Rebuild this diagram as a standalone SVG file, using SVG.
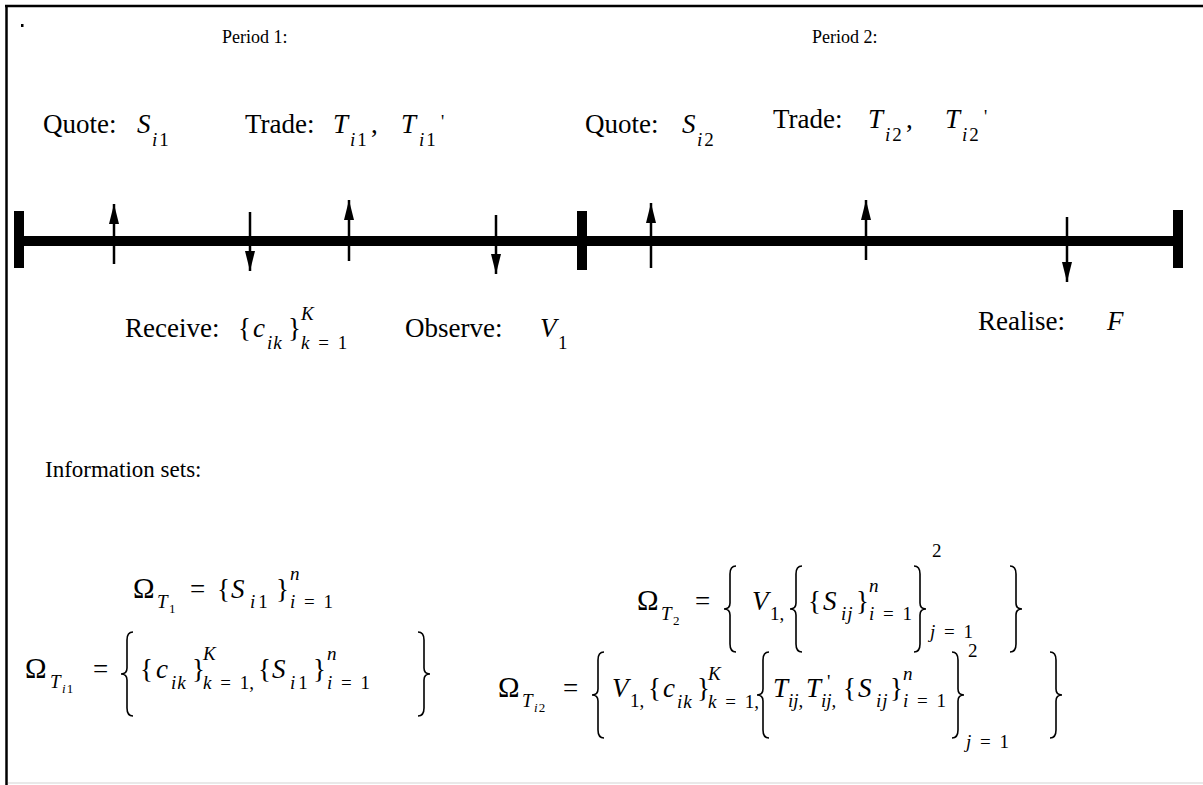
<svg xmlns="http://www.w3.org/2000/svg" width="1203" height="785" viewBox="0 0 1203 785">
<style>
.m{font-family:"Liberation Serif","Times New Roman",serif;fill:#000}
.L{font-size:27px}
.O{font-size:29px}
.s{font-size:19px;word-spacing:4px}
.ss{font-size:13px;letter-spacing:1px}
.p{font-size:18px}
.q{font-size:23px}
.i{font-style:italic}
.n{font-style:normal}
.br{fill:none;stroke:#000;stroke-width:1.6}
.arr{stroke:#000;stroke-width:2.5;marker-end:url(#ah)}
</style>
<defs>
<marker id="ah" markerUnits="userSpaceOnUse" viewBox="0 0 20 10" markerWidth="20" markerHeight="10" refX="20" refY="5" orient="auto">
<path d="M0,0 L20,5 L0,10 z" fill="#000"/>
</marker>
</defs>
<rect width="1203" height="785" fill="#fff"/>
<g id="frame">
<line x1="5" y1="6" x2="1203" y2="6" stroke="#000" stroke-width="2.5"/>
<line x1="6.5" y1="5" x2="6.5" y2="785" stroke="#000" stroke-width="2.5"/>
<line x1="8" y1="783" x2="1203" y2="783" stroke="#e2e2e2" stroke-width="1.5"/>
<rect x="21" y="24" width="2.5" height="3" fill="#000"/>
</g>
<g id="timeline">
<rect x="15" y="236" width="1167" height="10" fill="#000"/>
<rect x="14" y="211" width="10" height="57" fill="#000"/>
<rect x="577" y="211" width="10" height="59" fill="#000"/>
<rect x="1173" y="210" width="10" height="58" fill="#000"/>
</g>
<g id="connectors">
<line class="arr" x1="114" y1="264" x2="114" y2="204"/>
<line class="arr" x1="250" y1="212" x2="250" y2="271"/>
<line class="arr" x1="349" y1="261" x2="349" y2="200"/>
<line class="arr" x1="496" y1="215" x2="496" y2="274"/>
<line class="arr" x1="651" y1="268" x2="651" y2="203"/>
<line class="arr" x1="866" y1="260" x2="866" y2="200"/>
<line class="arr" x1="1067" y1="217" x2="1067" y2="282"/>
</g>
<g id="period1"><text class="m p" x="222" y="43">Period 1:</text></g>
<g id="period2"><text class="m p" x="812" y="43">Period 2:</text></g>
<g id="quote1">
<text class="m L" x="43" y="133">Quote:</text>
<text class="m L i" x="137" y="133">S</text>
<text class="m s" x="152" y="146"><tspan class="i">i</tspan><tspan dx="2">1</tspan></text>
</g>
<g id="trade1">
<text class="m L" x="245" y="133">Trade:</text>
<text class="m L i" x="333" y="133">T</text>
<text class="m s" x="350" y="146"><tspan class="i">i</tspan><tspan dx="2">1</tspan></text>
<text class="m L" x="371" y="133">,</text>
<text class="m L i" x="401" y="133">T</text>
<text class="m s" x="419" y="146"><tspan class="i">i</tspan><tspan dx="2">1</tspan></text>
<text class="m p" x="441" y="128">'</text>
</g>
<g id="quote2">
<text class="m L" x="585" y="133">Quote:</text>
<text class="m L i" x="682" y="133">S</text>
<text class="m s" x="697" y="146"><tspan class="i">i</tspan><tspan dx="2">2</tspan></text>
</g>
<g id="trade2">
<text class="m L" x="773" y="128">Trade:</text>
<text class="m L i" x="868" y="128">T</text>
<text class="m s" x="885" y="141"><tspan class="i">i</tspan><tspan dx="2">2</tspan></text>
<text class="m L" x="906" y="128">,</text>
<text class="m L i" x="945" y="128">T</text>
<text class="m s" x="962" y="141"><tspan class="i">i</tspan><tspan dx="2">2</tspan></text>
<text class="m p" x="984" y="123">'</text>
</g>
<g id="receive">
<text class="m L" x="125" y="337">Receive:</text>
<text class="m L" x="238" y="337">{</text>
<text class="m L i" x="253" y="337">c</text>
<text class="m s i" x="267" y="349" letter-spacing="1">ik</text>
<text class="m L" x="288" y="337">}</text>
<text class="m s i" x="301" y="320">K</text>
<text class="m s" x="301" y="349"><tspan class="i">k</tspan> = 1</text>
</g>
<g id="observe">
<text class="m L" x="405" y="337">Observe:</text>
<text class="m L i" x="540" y="337">V</text>
<text class="m s" x="558" y="349">1</text>
</g>
<g id="realise">
<text class="m L" x="978" y="330">Realise:</text>
<text class="m L i" x="1107" y="330">F</text>
</g>
<g id="infosets"><text class="m q" x="45" y="477">Information sets:</text></g>
<g id="omegaT1">
<text class="m O" x="133" y="598">Ω</text>
<text class="m s i" x="157" y="608">T</text>
<text class="m ss" x="169" y="613">1</text>
<text class="m L" x="190" y="598">=</text>
<text class="m L" x="217" y="598">{</text>
<text class="m L i" x="231" y="598">S</text>
<text class="m s" x="250" y="608"><tspan class="i">i</tspan><tspan dx="3">1</tspan></text>
<text class="m L" x="276" y="598">}</text>
<text class="m s i" x="290" y="580">n</text>
<text class="m s" x="290" y="608"><tspan class="i">i</tspan> = 1</text>
</g>
<g id="omegaTi1">
<text class="m O" x="25" y="678">Ω</text>
<text class="m s i" x="50" y="688">T</text>
<text class="m ss" x="62" y="693"><tspan class="i">i</tspan>1</text>
<text class="m L" x="93" y="678">=</text>
<path class="br" d="M133 632 Q127 632 127 640 L127 668 Q127 674 121 674 Q127 674 127 680 L127 708 Q127 716 133 716"/>
<text class="m L" x="140" y="678">{</text>
<text class="m L i" x="156" y="678">c</text>
<text class="m s i" x="171" y="689" letter-spacing="1">ik</text>
<text class="m L" x="192" y="678">}</text>
<text class="m s i" x="203" y="660">K</text>
<text class="m s" x="203" y="689"><tspan class="i">k</tspan> = 1,</text>
<text class="m L" x="258" y="678">{</text>
<text class="m L i" x="272" y="678">S</text>
<text class="m s" x="290" y="689"><tspan class="i">i</tspan><tspan dx="3">1</tspan></text>
<text class="m L" x="313" y="678">}</text>
<text class="m s i" x="327" y="660">n</text>
<text class="m s" x="327" y="689"><tspan class="i">i</tspan> = 1</text>
<path class="br" d="M418 632 Q424 632 424 640 L424 668 Q424 674 430 674 Q424 674 424 680 L424 708 Q424 716 418 716"/>
</g>
<g id="omegaT2">
<text class="m O" x="637" y="610">Ω</text>
<text class="m s i" x="661" y="620">T</text>
<text class="m ss" x="673" y="625">2</text>
<text class="m L" x="695" y="610">=</text>
<path class="br" d="M736 566 Q730 566 730 574 L730 603 Q730 609 724 609 Q730 609 730 615 L730 644 Q730 652 736 652"/>
<text class="m L i" x="752" y="610">V</text>
<text class="m s" x="770" y="620">1,</text>
<path class="br" d="M802 566 Q796 566 796 574 L796 603 Q796 609 790 609 Q796 609 796 615 L796 644 Q796 652 802 652"/>
<text class="m L" x="808" y="610">{</text>
<text class="m L i" x="823" y="610">S</text>
<text class="m s i" x="841" y="620" letter-spacing="1">ij</text>
<text class="m L" x="856" y="610">}</text>
<text class="m s i" x="869" y="592">n</text>
<text class="m s" x="869" y="620"><tspan class="i">i</tspan> = 1</text>
<path class="br" d="M914 566 Q920 566 920 574 L920 603 Q920 609 926 609 Q920 609 920 615 L920 644 Q920 652 914 652"/>
<text class="m s" x="932" y="557">2</text>
<text class="m s" x="930" y="638"><tspan class="i">j</tspan> = 1</text>
<path class="br" d="M1010 566 Q1016 566 1016 574 L1016 603 Q1016 609 1022 609 Q1016 609 1016 615 L1016 644 Q1016 652 1010 652"/>
</g>
<g id="omegaTi2">
<text class="m O" x="498" y="697">Ω</text>
<text class="m s i" x="522" y="707">T</text>
<text class="m ss" x="534" y="712"><tspan class="i">i</tspan>2</text>
<text class="m L" x="563" y="697">=</text>
<path class="br" d="M604 652 Q598 652 598 660 L598 689 Q598 695 592 695 Q598 695 598 701 L598 730 Q598 738 604 738"/>
<text class="m L i" x="612" y="697">V</text>
<text class="m s" x="630" y="707">1,</text>
<text class="m L" x="648" y="697">{</text>
<text class="m L i" x="663" y="697">c</text>
<text class="m s i" x="677" y="708" letter-spacing="1">ik</text>
<text class="m L" x="697" y="697">}</text>
<text class="m s i" x="708" y="680">K</text>
<text class="m s" x="708" y="708"><tspan class="i">k</tspan> = 1,</text>
<path class="br" d="M769 652 Q763 652 763 660 L763 689 Q763 695 757 695 Q763 695 763 701 L763 730 Q763 738 769 738"/>
<text class="m L i" x="773" y="697">T</text>
<text class="m s i" x="788" y="707">ij<tspan class="n">,</tspan></text>
<text class="m L i" x="806" y="697">T</text>
<text class="m s i" x="821" y="707">ij<tspan class="n">,</tspan></text>
<text class="m s" x="827" y="688">'</text>
<text class="m L" x="843" y="697">{</text>
<text class="m L i" x="858" y="697">S</text>
<text class="m s i" x="876" y="707" letter-spacing="1">ij</text>
<text class="m L" x="890" y="697">}</text>
<text class="m s i" x="903" y="680">n</text>
<text class="m s" x="903" y="707"><tspan class="i">i</tspan> = 1</text>
<path class="br" d="M952 652 Q958 652 958 660 L958 689 Q958 695 964 695 Q958 695 958 701 L958 730 Q958 738 952 738"/>
<text class="m s" x="968" y="657">2</text>
<text class="m s" x="966" y="748"><tspan class="i">j</tspan> = 1</text>
<path class="br" d="M1050 652 Q1056 652 1056 660 L1056 689 Q1056 695 1062 695 Q1056 695 1056 701 L1056 730 Q1056 738 1050 738"/>
</g>
</svg>
